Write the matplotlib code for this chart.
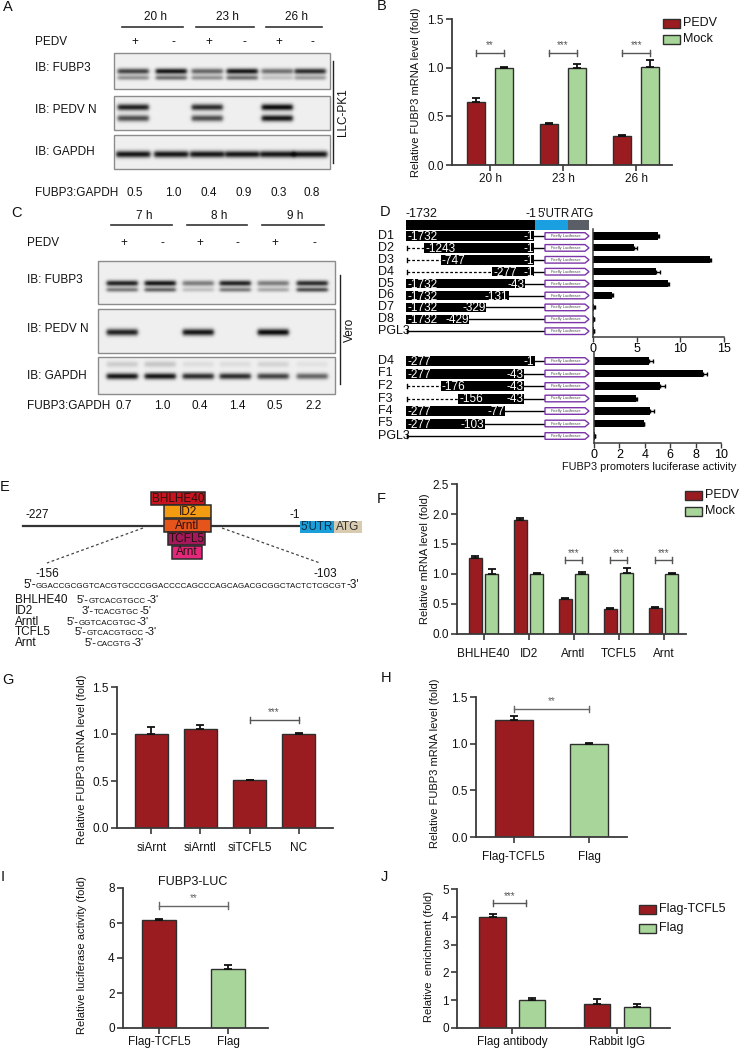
import numpy as np
import matplotlib
matplotlib.use('Agg')
import matplotlib.pyplot as plt
from matplotlib.patches import Rectangle, Polygon

plt.rcParams['font.family'] = ['Liberation Sans', 'DejaVu Sans']

# ------------------------------------------------------------------ data
# Panel A (LLC-PK1 western blot)
a_times = ['20 h', '23 h', '26 h']
a_pedv = ['+', '-', '+', '-', '+', '-']
a_ratio = ['0.5', '1.0', '0.4', '0.9', '0.3', '0.8']
a_fubp3_upper = [0.75, 0.95, 0.60, 0.95, 0.55, 0.85]
a_fubp3_lower = [0.40, 0.55, 0.40, 0.55, 0.20, 0.35]
a_pedvn_upper = [0.90, 0.0, 0.85, 0.0, 1.00, 0.0]
a_pedvn_lower = [0.70, 0.0, 0.70, 0.0, 0.95, 0.0]
a_gapdh = [0.95, 0.95, 0.95, 0.95, 0.95, 0.95]

# Panel B
b_groups = ['20 h', '23 h', '26 h']
b_pedv = [0.65, 0.42, 0.30]
b_pedv_err = [0.04, 0.01, 0.01]
b_mock = [1.00, 1.00, 1.01]
b_mock_err = [0.01, 0.04, 0.07]
b_sig = ['**', '***', '***']

# Panel C (Vero western blot)
c_times = ['7 h', '8 h', '9 h']
c_pedv = ['+', '-', '+', '-', '+', '-']
c_ratio = ['0.7', '1.0', '0.4', '1.4', '0.5', '2.2']
c_fubp3_upper = [0.90, 0.95, 0.50, 0.90, 0.50, 0.85]
c_fubp3_lower = [0.50, 0.60, 0.20, 0.50, 0.30, 0.70]
c_pedvn = [0.90, 0.0, 0.95, 0.0, 1.00, 0.0]
c_gapdh = [0.95, 0.95, 0.85, 0.85, 0.75, 0.60]
c_gapdh_smear = [0.15, 0.18, 0.08, 0.08, 0.12, 0.06]

# Panel D (promoter constructs + luciferase activity)
d_up_names = ['D1', 'D2', 'D3', 'D4', 'D5', 'D6', 'D7', 'D8', 'PGL3']
d_up_start = [-1732, -1243, -747, -277, -1732, -1732, -1732, -1732, np.nan]
d_up_end = [-1, -1, -1, -1, -43, -131, -329, -429, np.nan]
d_up_val = [7.4, 4.7, 13.4, 7.2, 8.6, 2.2, 0.15, 0.08, 0.08]
d_up_err = [0.2, 0.3, 0.15, 0.5, 0.1, 0.1, 0.1, 0.05, 0.05]
d_lo_names = ['D4', 'F1', 'F2', 'F3', 'F4', 'F5', 'PGL3']
d_lo_start = [-277, -277, -176, -156, -277, -277, np.nan]
d_lo_end = [-1, -43, -43, -43, -77, -103, np.nan]
d_lo_val = [4.3, 8.6, 5.2, 3.3, 4.4, 3.9, 0.05]
d_lo_err = [0.35, 0.3, 0.4, 0.05, 0.3, 0.05, 0.05]

# Panel E
e_tfs = ['BHLHE40', 'ID2', 'Arntl', 'TCFL5', 'Arnt']
e_tf_colors = ['#c8141f', '#f39c12', '#e5541b', '#a3195b', '#e3287c']
e_seq = 'GGACCGCGGTCACGTGCCCGGACCCCAGCCCAGCAGACGCGGCTACTCTCGCGT'
e_motif_ends = [("5'-", "-3'"), ("3'-", "-5'"), ("5'-", "-3'"), ("5'-", "-3'"), ("5'-", "-3'")]
e_motifs = ['GTCACGTGCC', 'TCACGTGC', 'GGTCACGTGC', 'GTCACGTGCC', 'CACGTG']

# Panel F
f_groups = ['BHLHE40', 'ID2', 'Arntl', 'TCFL5', 'Arnt']
f_pedv = [1.27, 1.90, 0.58, 0.41, 0.43]
f_pedv_err = [0.03, 0.03, 0.02, 0.03, 0.02]
f_mock = [1.00, 1.00, 1.00, 1.01, 1.00]
f_mock_err = [0.09, 0.01, 0.03, 0.09, 0.02]
f_sig = ['', '', '***', '***', '***']

# Panel G
g_groups = ['siArnt', 'siArntl', 'siTCFL5', 'NC']
g_vals = [1.00, 1.05, 0.51, 1.00]
g_err = [0.07, 0.05, 0.005, 0.01]

# Panel H
h_groups = ['Flag-TCFL5', 'Flag']
h_vals = [1.25, 1.00]
h_err = [0.05, 0.01]

# Panel I
i_groups = ['Flag-TCFL5', 'Flag']
i_vals = [6.15, 3.40]
i_err = [0.10, 0.20]

# Panel J
j_groups = ['Flag antibody', 'Rabbit IgG']
j_tcfl5 = [4.00, 0.87]
j_tcfl5_err = [0.10, 0.17]
j_flag = [1.00, 0.77]
j_flag_err = [0.08, 0.10]

# ------------------------------------------------------------------ setup
W, H = 740, 1049
RED = '#9b1c20'
GREEN = '#a8d599'
EDGE = '#2e2e2e'
AX = '#3a3a3a'
FS = 8.5

fig = plt.figure(figsize=(7.4, 10.49), dpi=100)
cv = fig.add_axes([0, 0, 1, 1])
cv.set_xlim(0, W)
cv.set_ylim(H, 0)
cv.set_autoscale_on(False)
cv.axis('off')


def px_axes(x0, y0, x1, y1):
    return fig.add_axes([x0 / W, 1 - y1 / H, (x1 - x0) / W, (y1 - y0) / H])


def T(x, y, s, **kw):
    kw.setdefault('fontsize', FS)
    kw.setdefault('va', 'center')
    kw.setdefault('color', '#111')
    return cv.text(x, y, s, **kw)


def panel_letter(x, y, s):
    T(x, y, s, fontsize=10.5, ha='center')


# ------------------------------------------------------------------ blots
def blot(box, lanes, lane_w, bands, bg=0.94):
    x0, y0, x1, y1 = box
    xs = np.arange(x0, x1, 0.5)
    ys = np.arange(y0, y1, 0.5)
    X, Y = np.meshgrid(xs, ys)
    dark = np.zeros_like(X)
    for yc, sig, ints in bands:
        for lx, inten in zip(lanes, ints):
            if inten <= 0:
                continue
            hprof = 0.5 * (np.tanh((X - (lx - lane_w / 2)) / 2.0)
                           - np.tanh((X - (lx + lane_w / 2)) / 2.0))
            vprof = np.exp(-(Y - yc) ** 2 / (2 * sig ** 2))
            dark += inten * hprof * vprof
    dark = np.clip(dark, 0, 1)
    img = bg - dark * (bg - 0.04)
    cv.imshow(img, cmap='gray', vmin=0, vmax=1, extent=(x0, x1, y1, y0),
              interpolation='bilinear', aspect='auto', zorder=1)
    cv.add_patch(Rectangle((x0, y0), x1 - x0, y1 - y0, fill=False,
                           ec='#8c8c8c', lw=1.0, zorder=2))


def blot_panel(lanes, label_x, times, time_y, line_y, pedv, pedv_y,
               labels, label_ys, ratio, ratio_y, side_x, side_y, side_txt):
    for i, t in enumerate(times):
        la, lb = lanes[2 * i], lanes[2 * i + 1]
        T((la + lb) / 2 + 3, time_y, t, ha='center')
        cv.plot([la - 11, lb + 12], [line_y, line_y], color='#333', lw=1.2)
    T(label_x, pedv_y, 'PEDV', ha='left')
    for lx, s in zip(lanes, pedv):
        T(lx + 2, pedv_y, s, ha='center')
    for lab, ly in zip(labels, label_ys):
        T(label_x, ly, lab, ha='left')
    T(label_x, ratio_y, 'FUBP3:GAPDH', ha='left')
    for lx, s in zip(lanes, ratio):
        T(lx + 2, ratio_y, s, ha='center')
    cv.plot([side_x, side_x], side_y, color='#222', lw=1.0)
    T(side_x + 10, np.mean(side_y), side_txt, ha='center', rotation=90)


# Panel A
panel_letter(8, 7, 'A')
a_lanes = [133, 171, 207, 242, 277, 310]
blot((114, 53, 330, 89), a_lanes, 31,
     [(71, 2.0, a_fubp3_upper), (77.5, 1.7, a_fubp3_lower)])
blot((114, 96, 330, 130), a_lanes, 31,
     [(107, 2.3, a_pedvn_upper), (118, 2.3, a_pedvn_lower)])
blot((114, 135, 330, 169), a_lanes, 34, [(154, 2.4, a_gapdh)])
blot_panel(a_lanes, 35, a_times, 17, 27, a_pedv, 42,
           ['IB: FUBP3', 'IB: PEDV N', 'IB: GAPDH'], [68, 110, 152],
           a_ratio, 193, 333, [61, 163], 'LLC-PK1')

# Panel C
panel_letter(17, 213, 'C')
c_lanes = [122, 160, 198, 235, 273, 312]
blot((98, 261, 335, 304), c_lanes, 31,
     [(283, 2.0, c_fubp3_upper), (289.5, 1.6, c_fubp3_lower)])
blot((98, 309, 335, 353), c_lanes, 31, [(332, 2.4, c_pedvn)])
blot((98, 357, 335, 394), c_lanes, 31,
     [(376, 2.2, c_gapdh), (364, 2.2, c_gapdh_smear)])
blot_panel(c_lanes, 27, c_times, 216, 225, c_pedv, 243,
           ['IB: FUBP3', 'IB: PEDV N', 'IB: GAPDH'], [280, 329, 376],
           c_ratio, 406, 340, [275, 384], 'Vero')


# ------------------------------------------------------------------ bar helpers
def bar_axes(box, xlim, ylim, yticks, yfmt):
    ax = px_axes(*box)
    ax.set_xlim(*xlim)
    ax.set_ylim(*ylim)
    ax.set_yticks(yticks)
    ax.set_yticklabels([yfmt.format(v) for v in yticks])
    for s in ('top', 'right'):
        ax.spines[s].set_visible(False)
    for s in ('left', 'bottom'):
        ax.spines[s].set_linewidth(1.3)
        ax.spines[s].set_color(AX)
    ax.tick_params(axis='both', length=4, width=1.2, color=AX,
                   labelcolor='#111', labelsize=FS, pad=2)
    ax.patch.set_alpha(0)
    return ax


def bars(ax, x, vals, errs, color, width):
    ax.bar(x, vals, width, color=color, edgecolor=EDGE, linewidth=1.0, zorder=2)
    ax.errorbar(x, vals, yerr=[np.zeros(len(vals)), errs], fmt='none',
                ecolor='#111', elinewidth=1.3, capsize=3, capthick=1.3, zorder=3)


def sig(ax, x1, x2, y, text, h, color='#555'):
    ax.plot([x1, x2], [y, y], color=color, lw=1.0, clip_on=False)
    ax.plot([x1, x1], [y - h, y + h], color=color, lw=1.0, clip_on=False)
    ax.plot([x2, x2], [y - h, y + h], color=color, lw=1.0, clip_on=False)
    ax.text((x1 + x2) / 2, y + h * 0.8, text, ha='center', va='bottom',
            fontsize=7, color=color, clip_on=False)


def legend_box(x, y, color, label):
    cv.add_patch(Rectangle((x, y - 4.5), 17, 9, fc=color, ec=EDGE, lw=1.0))
    T(x + 20, y, label, ha='left', fontsize=9)


# Panel B
panel_letter(382, 6, 'B')
ax = bar_axes((452, 19, 672, 165), (-0.52, 2.49), (0, 1.5),
              [0, 0.5, 1.0, 1.5], '{:.1f}')
x = np.arange(len(b_groups))
bars(ax, x - 0.19, b_pedv, b_pedv_err, RED, 0.25)
bars(ax, x + 0.19, b_mock, b_mock_err, GREEN, 0.25)
ax.set_xticks(x)
ax.set_xticklabels(b_groups)
for i, s in enumerate(b_sig):
    sig(ax, i - 0.19, i + 0.19, 1.15, s, 0.035)
T(416, 92, 'Relative FUBP3 mRNA level (fold)', ha='center', rotation=90, fontsize=8)
legend_box(663, 23, RED, 'PEDV')
legend_box(663, 39, GREEN, 'Mock')

# Panel F
panel_letter(381, 499, 'F')
ax = bar_axes((457, 484, 686, 634), (-0.59, 4.5), (0, 2.5),
              [0, 0.5, 1.0, 1.5, 2.0, 2.5], '{:.1f}')
x = np.arange(len(f_groups))
bars(ax, x - 0.18, f_pedv, f_pedv_err, RED, 0.28)
bars(ax, x + 0.18, f_mock, f_mock_err, GREEN, 0.28)
ax.set_xticks(x)
ax.set_xticklabels(f_groups)
ax.tick_params(axis='x', pad=6)
for i, s in enumerate(f_sig):
    if s:
        sig(ax, i - 0.18, i + 0.18, 1.23, s, 0.05)
T(425, 559, 'Relative mRNA level (fold)', ha='center', rotation=90, fontsize=8)
legend_box(685, 495, RED, 'PEDV')
legend_box(685, 511, GREEN, 'Mock')

# Panel G
panel_letter(8, 680, 'G')
ax = bar_axes((117, 687, 333, 828), (-0.70, 3.70), (0, 1.5),
              [0, 0.5, 1.0, 1.5], '{:.1f}')
x = np.arange(len(g_groups))
bars(ax, x, g_vals, g_err, RED, 0.67)
ax.set_xticks(x)
ax.set_xticklabels(g_groups)
ax.tick_params(axis='x', pad=6)
sig(ax, 2, 3, 1.15, '***', 0.035)
T(82, 759, 'Relative FUBP3 mRNA level (fold)', ha='center', rotation=90, fontsize=8)

# Panel H
panel_letter(386, 678, 'H')
ax = bar_axes((476, 697, 627, 837), (-0.5, 1.5), (0, 1.5),
              [0, 0.5, 1.0, 1.5], '{:.1f}')
x = np.arange(len(h_groups))
bars(ax, x, h_vals, h_err, [RED, GREEN], 0.5)
ax.set_xticks(x)
ax.set_xticklabels(h_groups)
ax.tick_params(axis='x', pad=6)
sig(ax, 0, 1, 1.37, '**', 0.035, color='#666')
T(435, 763, 'Relative FUBP3 mRNA level (fold)', ha='center', rotation=90, fontsize=8)

# Panel I
panel_letter(3, 877, 'I')
ax = bar_axes((123, 888, 268, 1028), (-0.52, 1.57), (0, 8),
              [0, 2, 4, 6, 8], '{:.0f}')
x = np.arange(len(i_groups))
bars(ax, x, i_vals, i_err, [RED, GREEN], 0.49)
ax.set_xticks(x)
ax.set_xticklabels(i_groups)
sig(ax, 0, 1, 7.0, '**', 0.18, color='#666')
T(193, 882, 'FUBP3-LUC', ha='center', fontsize=9)
T(82, 955, 'Relative luciferase activity (fold)', ha='center', rotation=90, fontsize=8)

# Panel J
panel_letter(384, 877, 'J')
ax = bar_axes((457, 889, 670, 1028), (-0.53, 1.51), (0, 5),
              [0, 1, 2, 3, 4, 5], '{:.0f}')
x = np.arange(len(j_groups))
bars(ax, x - 0.19, j_tcfl5, j_tcfl5_err, RED, 0.25)
bars(ax, x + 0.19, j_flag, j_flag_err, GREEN, 0.25)
ax.set_xticks(x)
ax.set_xticklabels(j_groups)
sig(ax, -0.19, 0.13, 4.5, '***', 0.1)
T(429, 957, 'Relative  enrichment (fold)', ha='center', rotation=90, fontsize=8)
legend_box(639, 909, RED, 'Flag-TCFL5')
legend_box(639, 928, GREEN, 'Flag')

# ------------------------------------------------------------------ Panel D
panel_letter(385, 212, 'D')
LUC_X0, LUC_X1 = 545, 589
T(406, 214, '-1732', ha='left', fontsize=9)
T(537, 214, '-1', ha='right', fontsize=9)
T(537.5, 214, "5'UTR", ha='left', fontsize=8.3)
T(571, 214, 'ATG', ha='left', fontsize=8.5)
cv.add_patch(Rectangle((406, 219.5), 129, 10, fc='black', ec='none'))
cv.add_patch(Rectangle((535, 219.5), 33, 10, fc='#1a9fe0', ec='none'))
cv.add_patch(Rectangle((568, 219.5), 21, 10, fc='#5a5e66', ec='none'))


def construct_rows(names, starts, ends, knots_bp, knots_px, y0, dy, bar_h):
    for i, (nm, s, e) in enumerate(zip(names, starts, ends)):
        y = y0 + i * dy
        T(378, y, nm, ha='left', fontsize=9)
        # luciferase reporter
        cv.add_patch(Polygon([(LUC_X0, y - 3.3), (LUC_X1 - 4, y - 3.3), (LUC_X1, y),
                              (LUC_X1 - 4, y + 3.3), (LUC_X0, y + 3.3)], closed=True,
                             fc='white', ec='#7b35a8', lw=1.0, zorder=3))
        T((LUC_X0 + LUC_X1) / 2 - 1, y, 'Firefly Luciferase', ha='center', fontsize=2.8,
          color='#444', zorder=4)
        left = knots_px[0]
        if np.isnan(s):
            cv.plot([left + 1, LUC_X0], [y, y], color='black', lw=1.0)
            cv.plot([left + 1, left + 1], [y - 2, y + 2], color='black', lw=1.0)
            continue
        xs = np.interp(s, knots_bp, knots_px)
        xe = np.interp(e, knots_bp, knots_px)
        if xs > left + 1:
            cv.plot([left + 1, xs], [y, y], color='black', lw=0.9, ls=(0, (2.2, 1.6)))
            cv.plot([left + 1, left + 1], [y - 2, y + 2], color='black', lw=1.0)
        cv.plot([xe, LUC_X0], [y, y], color='black', lw=1.0)
        cv.add_patch(Rectangle((xs, y - bar_h / 2), xe - xs, bar_h, fc='black', ec='none',
                               zorder=2))
        T(xs + 1, y + 1, '%d' % s, ha='left', fontsize=8.5, color='white', zorder=3)
        T(xe - 0.5, y + 1, '%d' % e, ha='right', fontsize=8.5, color='white', zorder=3)


construct_rows(d_up_names, d_up_start, d_up_end,
               [-1732, -1243, -747, -429, -329, -277, -131, -43, -1],
               [406, 424, 441, 469, 486, 492, 509, 525, 534], 236, 11.9, 9.5)
construct_rows(d_lo_names, d_lo_start, d_lo_end,
               [-277, -176, -156, -103, -77, -43, -1],
               [406, 441, 458, 485, 505, 524, 535], 361, 12.5, 10)


def luc_axes(box, n, xlim, xticks, top_pad, bot_pad, vals, errs):
    ax = px_axes(*box)
    y = np.arange(n)
    ax.barh(y, vals, height=0.6, color='black', zorder=2)
    ax.errorbar(vals, y, xerr=[np.zeros(n), errs], fmt='none', ecolor='black',
                elinewidth=1.0, capsize=1.5, capthick=1.0, zorder=3)
    ax.set_xlim(*xlim)
    ax.set_ylim(n - 1 + bot_pad, -top_pad)
    ax.set_xticks(xticks)
    ax.set_yticks([])
    for s in ('top', 'right'):
        ax.spines[s].set_visible(False)
    for s in ('left', 'bottom'):
        ax.spines[s].set_linewidth(1.1)
        ax.spines[s].set_color(AX)
    ax.tick_params(axis='x', length=3.5, width=1.0, color=AX, labelsize=9, pad=1)
    ax.patch.set_alpha(0)
    return ax


luc_axes((593, 229, 724, 337), len(d_up_names), (0, 15), [0, 5, 10, 15],
         0.59, 0.5, d_up_val, d_up_err)
luc_axes((594, 352, 721, 443), len(d_lo_names), (0, 10), [0, 2, 4, 6, 8, 10],
         0.72, 0.56, d_lo_val, d_lo_err)
T(649, 467, 'FUBP3 promoters luciferase activity', ha='center', fontsize=7.8)

# ------------------------------------------------------------------ Panel E
panel_letter(5, 487, 'E')
cv.plot([23, 300], [526, 526], color='#333', lw=1.6, zorder=1)
T(25, 515, '-227', ha='left', fontsize=8.5)
T(289, 515, '-1', ha='left', fontsize=8.5)
cv.add_patch(Rectangle((300, 521), 34, 11.5, fc='#1b9fd9', ec='none'))
cv.add_patch(Rectangle((334, 521), 28, 11.5, fc='#d8cbb0', ec='none'))
T(317, 527, "5'UTR", ha='center', fontsize=8.3, color='#0d2a45')
T(348, 527, 'ATG', ha='center', fontsize=8.5, color='#333')
tf_geom = [(151, 205), (164, 211), (164, 211), (168, 205), (172, 202)]
for k, (nm, col, (gx0, gx1)) in enumerate(zip(e_tfs, e_tf_colors, tf_geom)):
    gy = 492 + k * 13.4
    cv.add_patch(Rectangle((gx0, gy), gx1 - gx0, 13, fc=col, ec='#2a2a2a', lw=1.1, zorder=3))
    T((gx0 + gx1) / 2, gy + 6.8, nm, ha='center', fontsize=8.5, color='#2a1010', zorder=4)
cv.plot([143, 47], [528, 563], color='#444', lw=0.9, ls=(0, (2.2, 2.0)))
cv.plot([222, 320], [528, 563], color='#444', lw=0.9, ls=(0, (2.2, 2.0)))
T(35, 574, '-156', ha='left', fontsize=8.5)
T(313, 574, '-103', ha='left', fontsize=8.5)

renderer = fig.canvas.get_renderer()


def mixed(x, y, parts):
    for s, size in parts:
        t = cv.text(x, y, s, fontsize=size, va='baseline', ha='left', color='#111')
        x += t.get_window_extent(renderer).width
    return x


# sequence line: scale the small-caps size so the sequence spans the reference width
probe = cv.text(0, 0, e_seq, fontsize=6)
seq_w = probe.get_window_extent(renderer).width
probe.remove()
seq_fs = 6 * 313.0 / seq_w
mixed(23, 588, [("5'-", 8.5), (e_seq, seq_fs), ("-3'", 8.5)])
motif_x = [77, 82, 67, 75, 85]
for k, (nm, (p, q), mot, mx) in enumerate(zip(e_tfs, e_motif_ends, e_motifs, motif_x)):
    yb = 603 + k * 10.8
    cv.text(15, yb, nm, fontsize=8.5, va='baseline', ha='left', color='#111')
    mixed(mx, yb, [(p, 8), (mot, seq_fs), (q, 8)])

fig.savefig('out.png', dpi=100)
